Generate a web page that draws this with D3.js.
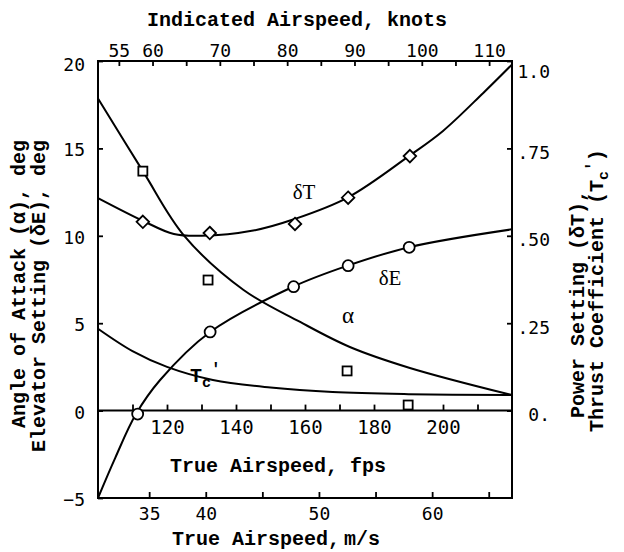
<!DOCTYPE html>
<html>
<head>
<meta charset="utf-8">
<script src="https://cdn.jsdelivr.net/npm/d3@7"></script>
<style>
  html, body { margin: 0; padding: 0; background: #fff; }
  svg { display: block; }
  .mono { font-family: "Liberation Mono", "DejaVu Sans Mono", monospace; font-weight: bold; }
  .num { font-family: "DejaVu Sans Mono", monospace; }
  .greek { font-family: "Liberation Serif", "DejaVu Serif", serif; }
</style>
</head>
<body>
<svg id="chart" width="624" height="552"></svg>
<script>
// Trim-condition curves vs. true airspeed (fps)

// Angle of attack, deg (left axis) — faired curve and test points
const alphaCurveFps = [100, 113, 125, 142.2, 158.6, 173, 190.4, 220];
const alphaCurve    = [17.85, 13.7, 10.0, 6.9, 5.07, 3.64, 2.44, 0.89];
const alphaPtsFps   = [113.0, 131.9, 172.2, 189.9];
const alphaPts      = [13.7, 7.47, 2.27, 0.32];

// Elevator setting, deg (left axis)
const elevCurveFps = [100, 105, 111, 118, 132.5, 156.7, 172.5, 190.2, 220];
const elevCurve    = [-5.0, -2.7, -0.2, 1.75, 4.5, 7.1, 8.3, 9.35, 10.37];
const elevPtsFps   = [111.5, 132.5, 156.7, 172.5, 190.2];
const elevPts      = [-0.2, 4.5, 7.09, 8.29, 9.34];

// Power setting (right axis)
const powerCurveFps = [100, 113, 122, 130, 145, 157, 172.5, 190.4, 200, 211.6, 220];
const powerCurve    = [0.608, 0.543, 0.505, 0.500, 0.515, 0.548, 0.61, 0.73, 0.80, 0.908, 0.99];
const powerPtsFps   = [113.0, 132.4, 157.1, 172.5, 190.4];
const powerPts      = [0.540, 0.508, 0.534, 0.609, 0.728];

// Thrust coefficient (right axis)
const thrustCurveFps = [100, 110, 120, 133.3, 150, 168, 190, 220];
const thrustCurve    = [0.234, 0.17, 0.125, 0.0875, 0.066, 0.053, 0.047, 0.0445];

// Axis ticks and labels
const leftTicks   = [-5, 0, 5, 10, 15, 20];
const rightTicks  = [0, 0.25, 0.5, 0.75, 1.0];
const rightLabels = ["0.", ".25", ".50", ".75", "1.0"];
const fpsTicks    = [110, 120, 130, 140, 150, 160, 170, 180, 190, 200, 210];
const fpsLabels   = [120, 140, 160, 180, 200];
const msTicks     = [35, 40, 45, 50, 55, 60, 65];
const msLabels    = [35, 40, 50, 60];
const knotTicks   = [55, 60, 65, 70, 75, 80, 85, 90, 95, 100, 105, 110];
const knotLabels  = [55, 60, 70, 80, 90, 100, 110];

const FT_PER_M = 3.28084;
const X0 = 98, X1 = 512, Y0 = 61, Y1 = 498;

const svg = d3.select("#chart");

const x  = d3.scaleLinear().domain([100, 220]).range([X0, X1]);
const xMs = d3.scaleLinear().domain([100 / FT_PER_M, 220 / FT_PER_M]).range([X0, X1]);
const xKt = d3.scaleLinear().domain([51.9, 113.4]).range([X0, X1]);
const yL = d3.scaleLinear().domain([-5, 20]).range([Y1, Y0]);
const yR = d3.scaleLinear().domain([-0.25, 1.0]).range([Y1, Y0]);

function styleAxis(g, cls, size) {
  g.select(".domain").remove();
  g.selectAll(".tick line").attr("stroke", "#000").attr("stroke-width", 1.8);
  g.selectAll(".tick text").attr("class", cls).attr("fill", "#000").style("font-size", size + "px");
}

// frame
svg.append("rect")
  .attr("x", X0).attr("y", Y0).attr("width", X1 - X0).attr("height", Y1 - Y0)
  .attr("fill", "none").attr("stroke", "#000").attr("stroke-width", 2);

// zero line carrying the fps scale
svg.append("line")
  .attr("x1", X0).attr("x2", X1).attr("y1", yL(0)).attr("y2", yL(0))
  .attr("stroke", "#000").attr("stroke-width", 2);

// left axis
svg.append("g").attr("transform", `translate(${X0},0)`)
  .call(d3.axisLeft(yL).tickValues(leftTicks).tickSizeInner(-5).tickSizeOuter(0).tickPadding(13)
        .tickFormat(d => d < 0 ? "\u22125" : d))
  .call(g => styleAxis(g, "num", 18))
  .call(g => g.selectAll(".tick text").attr("dy", d => d === 20 ? "0.55em" : "0.42em"));

// right axis
svg.append("g").attr("transform", `translate(${X1},0)`)
  .call(d3.axisRight(yR).tickValues(rightTicks).tickSizeInner(-5).tickSizeOuter(0)
        .tickFormat((d, i) => rightLabels[i]))
  .call(g => styleAxis(g, "num", 18))
  .call(g => g.selectAll(".tick text").attr("x", 38).attr("text-anchor", "end")
        .attr("dy", d => d === 1 ? "0.9em" : "0.55em"));

// fps scale along the zero line
svg.append("g").attr("transform", `translate(0,${yL(0)})`)
  .call(d3.axisBottom(x).tickValues(fpsTicks).tickSizeInner(-6).tickSizeOuter(0).tickPadding(10)
        .tickFormat(d => fpsLabels.includes(d) ? d : ""))
  .call(g => styleAxis(g, "num", 19));

// m/s scale along the bottom
svg.append("g").attr("transform", `translate(0,${Y1})`)
  .call(d3.axisBottom(xMs).tickValues(msTicks).tickSizeInner(-6).tickSizeOuter(0).tickPadding(9)
        .tickFormat(d => msLabels.includes(d) ? d : ""))
  .call(g => styleAxis(g, "num", 18));

// indicated knots along the top
svg.append("g").attr("transform", `translate(0,${Y0})`)
  .call(d3.axisTop(xKt).tickValues(knotTicks).tickSizeInner(-5).tickSizeOuter(0).tickPadding(4)
        .tickFormat(d => knotLabels.includes(d) ? d : ""))
  .call(g => styleAxis(g, "num", 18));

// axis titles
svg.append("text").attr("class", "mono").attr("x", 297).attr("y", 26)
  .attr("text-anchor", "middle").style("font-size", "20px").text("Indicated Airspeed, knots");
svg.append("text").attr("class", "mono").attr("x", 278).attr("y", 472)
  .attr("text-anchor", "middle").style("font-size", "20px").text("True Airspeed, fps");
svg.append("text").attr("class", "mono").attr("x", 276).attr("y", 545)
  .attr("text-anchor", "middle").style("font-size", "20px").text("True Airspeed,\u2009m/s");

svg.append("text").attr("class", "mono").style("font-size", "20px")
  .attr("transform", "translate(25,284) rotate(-90)").attr("text-anchor", "middle")
  .text("Angle of Attack (\u03b1), deg");
svg.append("text").attr("class", "mono").style("font-size", "20px")
  .attr("transform", "translate(45,296) rotate(-90)").attr("text-anchor", "middle")
  .text("Elevator Setting (\u03b4E), deg");

svg.append("text").attr("class", "mono").style("font-size", "20px")
  .attr("transform", "translate(584,418) rotate(-90)").attr("text-anchor", "start")
  .text("Power Setting (\u03b4T),");
const t2 = svg.append("text").attr("class", "mono").style("font-size", "20px")
  .attr("transform", "translate(603,432) rotate(-90)").attr("text-anchor", "start");
t2.append("tspan").text("Thrust Coefficient (T");
t2.append("tspan").attr("dy", 5).style("font-size", "15px").text("c");
t2.append("tspan").attr("dy", -11).style("font-size", "16px").text("'");
t2.append("tspan").attr("dy", 6).text(")");

// curves
const lineL = (fx, fy) => d3.line().x((d, i) => x(fx[i])).y(d => fy(d)).curve(d3.curveCatmullRom.alpha(0.5));
const curves = [
  [alphaCurveFps, alphaCurve, yL],
  [elevCurveFps, elevCurve, yL],
  [powerCurveFps, powerCurve, yR],
  [thrustCurveFps, thrustCurve, yR]
];
curves.forEach(([fx, vals, sc]) => {
  svg.append("path").datum(vals)
    .attr("d", lineL(fx, sc))
    .attr("fill", "none").attr("stroke", "#000").attr("stroke-width", 2);
});

// test points
svg.selectAll(".sq").data(alphaPts).join("rect").attr("class", "sq")
  .attr("x", (d, i) => x(alphaPtsFps[i]) - 4.5).attr("y", d => yL(d) - 4.5)
  .attr("width", 9).attr("height", 9)
  .attr("fill", "#fff").attr("stroke", "#000").attr("stroke-width", 1.8);

svg.selectAll(".ci").data(elevPts).join("circle").attr("class", "ci")
  .attr("cx", (d, i) => x(elevPtsFps[i])).attr("cy", d => yL(d)).attr("r", 5.5)
  .attr("fill", "#fff").attr("stroke", "#000").attr("stroke-width", 1.8);

const diamond = d3.symbol().type(d3.symbolDiamond2).size(100);
svg.selectAll(".di").data(powerPts).join("path").attr("class", "di")
  .attr("transform", (d, i) => `translate(${x(powerPtsFps[i])},${yR(d)})`)
  .attr("d", diamond)
  .attr("fill", "#fff").attr("stroke", "#000").attr("stroke-width", 1.8);

// curve labels
svg.append("text").attr("class", "greek").attr("x", 304).attr("y", 199)
  .attr("text-anchor", "middle").style("font-size", "21px").text("\u03b4T");
svg.append("text").attr("class", "greek").attr("x", 390).attr("y", 285)
  .attr("text-anchor", "middle").style("font-size", "21px").text("\u03b4E");
svg.append("text").attr("class", "greek").attr("x", 348).attr("y", 323)
  .attr("text-anchor", "middle").style("font-size", "23px").text("\u03b1");
const tl = svg.append("text").attr("class", "mono").attr("x", 190).attr("y", 382).style("font-size", "20px");
tl.append("tspan").text("T");
tl.append("tspan").attr("dy", 5).style("font-size", "15px").text("c");
tl.append("tspan").attr("dy", -13).style("font-size", "16px").text("'");
</script>
</body>
</html>
